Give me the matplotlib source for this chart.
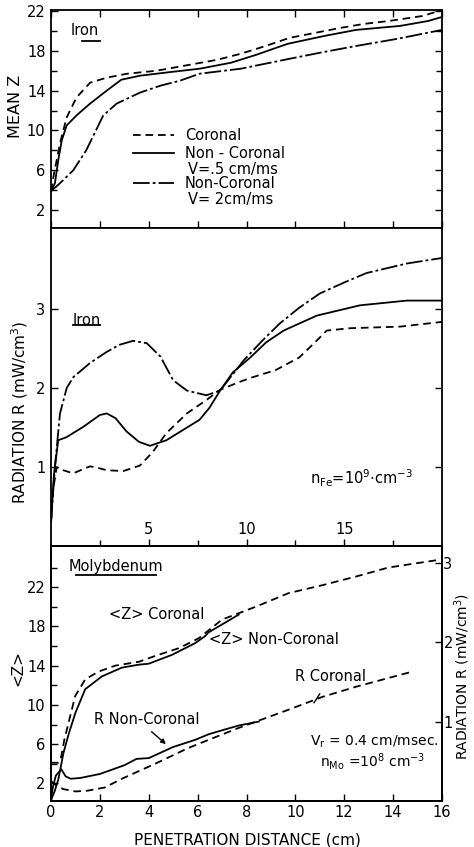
"""Mean charge state and radiated power versus penetration distance (Fe, Mo)."""
import matplotlib

matplotlib.use("Agg")
import matplotlib.pyplot as plt
from matplotlib.ticker import MultipleLocator, FixedLocator, NullFormatter

plt.rcParams["font.family"] = ["Liberation Sans Narrow", "DejaVu Sans"]
plt.rcParams["mathtext.fontset"] = "custom"
plt.rcParams["mathtext.rm"] = "Liberation Sans Narrow"
plt.rcParams["mathtext.it"] = "Liberation Sans Narrow"
plt.rcParams["lines.scale_dashes"] = False

# --- iron, mean Z (x in cm, 0-20) ---
fe_z_cor_x = [0, 0.12, 0.46, 0.8, 1.3, 2.0, 2.85, 3.9, 5.4, 7.1, 8.5, 9.7, 11.0, 12.2, 13.5, 14.8, 16.0, 17.3, 19.0, 20.0]
fe_z_cor_y = [3.9, 5.3, 8.7, 11.3, 13.3, 14.8, 15.3, 15.7, 16.0, 16.6, 17.1, 17.7, 18.5, 19.3, 19.8, 20.3, 20.7, 21.0, 21.5, 22.1]
fe_z_nc5_x = [0, 0.2, 0.37, 0.55, 0.8, 1.3, 2.0, 2.85, 3.6, 4.55, 6.25, 7.6, 9.2, 10.5, 12.1, 14.0, 15.6, 17.85, 19.3, 20.0]
fe_z_nc5_y = [3.9, 4.7, 7.0, 9.0, 10.5, 11.5, 12.7, 14.0, 15.1, 15.5, 15.9, 16.2, 16.8, 17.6, 18.7, 19.5, 20.1, 20.5, 21.0, 21.4]
fe_z_nc2_x = [0, 0.46, 1.14, 1.8, 2.67, 3.36, 4.55, 5.6, 6.6, 7.6, 9.7, 12.2, 14.0, 15.65, 17.7, 20.0]
fe_z_nc2_y = [3.9, 4.7, 6.0, 8.0, 11.5, 12.7, 13.8, 14.5, 15.0, 15.7, 16.2, 17.2, 17.9, 18.5, 19.2, 20.1]

# --- iron, radiation R (mW/cm^3) ---
fe_r_cor_x = [0, 0.1, 0.29, 0.63, 1.14, 1.6, 2.0, 2.4, 2.85, 3.7, 4.55, 5.2, 5.9, 6.95, 7.95, 8.65, 9.65, 10.2, 11.5, 12.7, 13.5, 14.1, 15.3, 17.85, 20.0]
fe_r_cor_y = [0.3, 0.7, 1.0, 0.96, 0.92, 0.97, 1.01, 0.99, 0.96, 0.95, 1.02, 1.19, 1.43, 1.68, 1.85, 1.98, 2.08, 2.13, 2.23, 2.39, 2.58, 2.73, 2.76, 2.78, 2.84]
fe_r_nc5_x = [0, 0.15, 0.37, 0.8, 1.65, 2.5, 2.85, 3.3, 3.87, 4.5, 5.06, 5.9, 6.75, 7.6, 8.1, 8.65, 9.3, 10.2, 11.0, 11.9, 13.6, 15.8, 18.2, 20.0]
fe_r_nc5_y = [0.3, 0.9, 1.34, 1.38, 1.51, 1.66, 1.68, 1.62, 1.45, 1.32, 1.27, 1.34, 1.47, 1.6, 1.75, 1.97, 2.2, 2.39, 2.58, 2.73, 2.92, 3.05, 3.11, 3.11]
fe_r_nc2_x = [0, 0.2, 0.46, 0.8, 1.14, 2.0, 2.85, 3.5, 4.2, 4.9, 5.6, 6.25, 6.95, 7.95, 8.65, 9.85, 10.8, 11.7, 12.7, 13.75, 15.0, 16.15, 18.2, 20.0]
fe_r_nc2_y = [0.3, 1.0, 1.68, 2.0, 2.14, 2.32, 2.46, 2.55, 2.6, 2.57, 2.4, 2.1, 1.97, 1.91, 1.97, 2.35, 2.6, 2.82, 3.02, 3.2, 3.34, 3.46, 3.58, 3.65]

# --- molybdenum, <Z> (left axis) and R (right axis), x in cm 0-16 ---
mo_z_cor_x = [0, 0.3, 0.4, 0.55, 0.72, 0.99, 1.4, 1.95, 2.63, 3.6, 4.27, 5.25, 6.05, 7.0, 8.37, 9.73, 11.1, 12.5, 13.8, 15.9]
mo_z_cor_y = [4.1, 4.1, 4.5, 6.5, 8.2, 10.9, 12.6, 13.4, 14.0, 14.4, 15.0, 15.8, 16.8, 18.7, 20.0, 21.4, 22.2, 23.1, 24.0, 24.8]
mo_z_nc_x = [0, 0.15, 0.3, 0.51, 0.72, 1.0, 1.4, 2.08, 2.9, 3.59, 4.0, 4.95, 5.9, 6.3, 6.45, 7.0, 7.68]
mo_z_nc_y = [0.3, 1.2, 2.4, 5.1, 7.0, 9.2, 11.6, 12.9, 13.8, 14.1, 14.2, 15.1, 16.3, 17.0, 17.4, 18.2, 19.2]
mo_r_cor_x = [0, 0.2, 0.5, 1.0, 1.5, 2.2, 2.9, 4.27, 5.64, 6.45, 7.68, 9.73, 11.1, 12.5, 14.8]
mo_r_cor_y = [0.25, 0.2, 0.15, 0.12, 0.13, 0.17, 0.28, 0.47, 0.67, 0.77, 0.92, 1.15, 1.31, 1.44, 1.63]
mo_r_nc_x = [0, 0.08, 0.2, 0.42, 0.6, 0.8, 1.2, 2.0, 3.0, 3.5, 4.0, 4.5, 5.0, 5.9, 6.45, 7.0, 7.68, 8.5]
mo_r_nc_y = [0.02, 0.18, 0.32, 0.40, 0.31, 0.28, 0.29, 0.34, 0.45, 0.53, 0.54, 0.61, 0.68, 0.77, 0.84, 0.89, 0.95, 1.0]

DASH = (0, (5.5, 3.5))
DASHDOT = (0, (12, 2.2, 2, 2.2))
LW = 1.3
FS = 10.5

fig = plt.figure(figsize=(4.74, 8.47), dpi=100)
L, W = 51 / 474, 391 / 474
ax1 = fig.add_axes([L, (847 - 228) / 847, W, 218 / 847])
ax2 = fig.add_axes([L, (847 - 546) / 847, W, 318 / 847])
ax3 = fig.add_axes([L, (847 - 801) / 847, W, 255 / 847])
ax3r = ax3.twinx()

for ax in (ax1, ax2, ax3, ax3r):
    for sp in ax.spines.values():
        sp.set_linewidth(1.3)
    ax.tick_params(which="both", direction="in", width=1.0, labelsize=FS)
    ax.tick_params(which="major", length=5)
    ax.tick_params(which="minor", length=4)

# top panel: iron mean Z
ax1.plot(fe_z_cor_x, fe_z_cor_y, color="black", lw=LW, linestyle=DASH)
ax1.plot(fe_z_nc5_x, fe_z_nc5_y, color="black", lw=LW)
ax1.plot(fe_z_nc2_x, fe_z_nc2_y, color="black", lw=LW, linestyle=DASHDOT)
ax1.set_xlim(0, 20)
ax1.set_ylim(0.2, 22.1)
ax1.xaxis.set_major_locator(MultipleLocator(2.5))
ax1.xaxis.set_major_formatter(NullFormatter())
ax1.yaxis.set_major_locator(FixedLocator([2, 6, 10, 14, 18, 22]))
ax1.yaxis.set_minor_locator(FixedLocator([4, 8, 12, 16, 20]))
ax1.tick_params(top=True, right=True, which="both", pad=4)
ax1.set_ylabel("MEAN Z", fontsize=11.5)
ax1.yaxis.set_label_coords(-0.072, 0.56)
ax1.text(1.75, 20.0, "Iron", fontsize=FS, ha="center", va="center")
ax1.plot([0.08, 0.125], [0.86, 0.86], transform=ax1.transAxes, color="black", lw=1.3)

# hand-drawn key
key = [
    (9.5, DASH, "Coronal", None),
    (7.7, "-", "Non - Coronal", "V=.5 cm/ms"),
    (4.7, DASHDOT, "Non-Coronal", "V= 2cm/ms"),
]
for ky, ls, line1, line2 in key:
    ax1.plot([4.2, 6.3], [ky, ky], color="black", lw=LW, linestyle=ls)
    ax1.text(6.85, ky, line1, fontsize=FS, va="center")
    if line2:
        ax1.text(7.0, ky - 1.65, line2, fontsize=FS, va="center")

# middle panel: iron radiation
ax2.plot(fe_r_cor_x, fe_r_cor_y, color="black", lw=LW, linestyle=DASH)
ax2.plot(fe_r_nc5_x, fe_r_nc5_y, color="black", lw=LW)
ax2.plot(fe_r_nc2_x, fe_r_nc2_y, color="black", lw=LW, linestyle=DASHDOT)
ax2.set_xlim(0, 20)
ax2.set_ylim(0, 4.03)
ax2.xaxis.set_major_locator(FixedLocator([5, 10, 15]))
ax2.xaxis.set_minor_locator(FixedLocator([2.5, 7.5, 12.5, 17.5]))
ax2.tick_params(axis="x", which="both", pad=-17)
ax2.yaxis.set_major_locator(FixedLocator([1, 2, 3]))
ax2.tick_params(axis="y", right=True, pad=4)
ax2.set_ylabel("RADIATION R (mW/cm$^3$)", fontsize=11)
ax2.yaxis.set_label_coords(-0.053, 0.42)
ax2.text(1.85, 2.86, "Iron", fontsize=FS, ha="center", va="center")
ax2.plot([0.055, 0.125], [0.695, 0.695], transform=ax2.transAxes, color="black", lw=1.3)
ax2.text(15.9, 0.86, r"$n_{Fe}$=10$^9$$\cdot$cm$^{-3}$", fontsize=FS, ha="center", va="center")

# bottom panel: molybdenum
ax3.plot(mo_z_cor_x, mo_z_cor_y, color="black", lw=LW, linestyle=DASH)
ax3.plot(mo_z_nc_x, mo_z_nc_y, color="black", lw=LW)
ax3r.plot(mo_r_cor_x, mo_r_cor_y, color="black", lw=LW, linestyle=DASH)
ax3r.plot(mo_r_nc_x, mo_r_nc_y, color="black", lw=LW)
ax3.set_xlim(0, 16)
ax3.set_ylim(0.2, 26.2)
ax3r.set_ylim(0, 3.21)
ax3.xaxis.set_major_locator(MultipleLocator(2))
ax3.yaxis.set_major_locator(FixedLocator([2, 6, 10, 14, 18, 22]))
ax3.yaxis.set_minor_locator(FixedLocator([4, 8, 12, 16, 20, 24]))
ax3.tick_params(axis="x", pad=3)
ax3.tick_params(axis="y", pad=4)
ax3r.yaxis.set_major_locator(FixedLocator([1, 2, 3]))
ax3r.tick_params(axis="y", pad=1)
ax3.set_xlabel("PENETRATION DISTANCE (cm)", fontsize=11)
ax3.xaxis.set_label_coords(0.503, -0.125)
ax3.set_ylabel("<Z>", fontsize=11)
ax3.yaxis.set_label_coords(-0.066, 0.52)
ax3r.set_ylabel("RADIATION R (mW/cm$^3$)", fontsize=10)
ax3r.yaxis.set_label_coords(1.027, 0.49)

ax3.text(2.64, 24.1, "Molybdenum", fontsize=FS, ha="center", va="center")
ax3.plot([0.064, 0.268], [0.886, 0.886], transform=ax3.transAxes, color="black", lw=1.3)
ax3.text(2.36, 19.2, "<Z> Coronal", fontsize=FS, va="center")
ax3.text(6.45, 16.65, "<Z> Non-Coronal", fontsize=FS, va="center")
ax3.annotate("R Coronal", xy=(10.76, 10.2), xytext=(10.0, 12.9), fontsize=FS, va="center",
             arrowprops=dict(arrowstyle="-", lw=1.0, color="black", shrinkA=6, shrinkB=0))
ax3.annotate("R Non-Coronal", xy=(4.7, 6.0), xytext=(1.74, 8.5), fontsize=FS, va="center",
             arrowprops=dict(arrowstyle="-|>", lw=1.0, color="black", mutation_scale=7,
                             shrinkA=2, shrinkB=0, relpos=(0.5, 0.0)))
ax3.text(10.6, 6.2, r"V$_r$ = 0.4 cm/msec.", fontsize=10, va="center")
ax3.text(11.0, 4.2, r"n$_{Mo}$ =10$^8$ cm$^{-3}$", fontsize=10, va="center")

fig.savefig("out.png", dpi=100)
